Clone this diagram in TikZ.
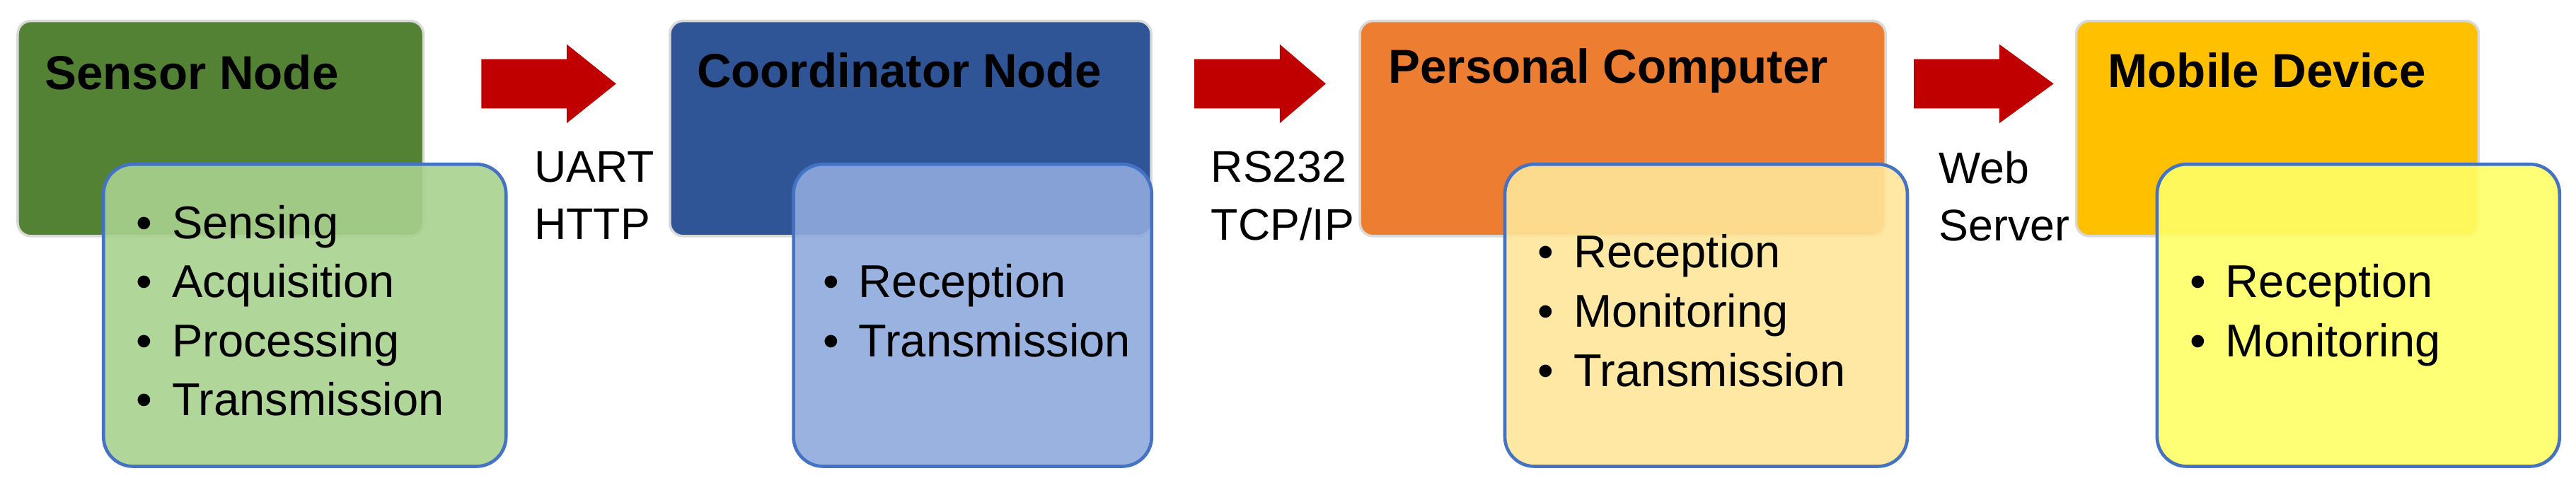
\documentclass[tikz,border=0pt]{standalone}
\usepackage{fontspec}
\setmainfont{Liberation Sans}
\definecolor{cgreen}{HTML}{548235}
\definecolor{lgreen}{HTML}{A9D18E}
\definecolor{cblue}{HTML}{2F5597}
\definecolor{lblue}{HTML}{8FAADC}
\definecolor{corange}{HTML}{ED7D31}
\definecolor{lorange}{HTML}{FFE699}
\definecolor{cgold}{HTML}{FFC000}
\definecolor{lyellow}{HTML}{FFFF66}
\definecolor{bord}{HTML}{4472C4}
\definecolor{arr}{HTML}{C00000}
\newcommand{\itm}{\textbullet\hspace{12pt}}
\begin{document}
\begin{tikzpicture}[x=1pt,y=-1pt,
  head/.style={draw=white!85!black,line width=1.5pt,rounded corners=8pt,anchor=north west,
    inner sep=0pt,minimum width=#1,minimum height=131pt},
  title/.style={anchor=west,inner sep=0pt,font=\fontsize{29}{32}\selectfont\bfseries},
  body/.style={draw=bord,line width=2pt,rounded corners=18pt,fill opacity=0.9,text opacity=1,
    anchor=north west,minimum height=184pt,text width=#1,inner sep=0pt,
    font=\fontsize{28}{36}\selectfont},
  lab/.style={anchor=north west,align=left,inner sep=0pt,font=\fontsize{27}{35}\selectfont},
  blockarrow/.pic={\fill[arr] (0,-15) -- (52,-15) -- (52,-24) -- (#1,0) -- (52,24) -- (52,15) -- (0,15) -- cycle;}]
\useasboundingbox (0,0) rectangle (1568,294);
% heads
\node[head=247pt,fill=cgreen] (h1) at (10,12) {};
\node[head=293pt,fill=cblue] (h2) at (407,12) {};
\node[head=320pt,fill=corange] (h3) at (827,12) {};
\node[head=245pt,fill=cgold] (h4) at (1263,12) {};
\node[title] (t1) at (27,44) {Sensor Node};
\node[title] (t2) at (424,43) {Coordinator Node};
\node[title] (t3) at (845,43) {Personal Computer};
\node[title] (t4) at (1283,43) {Mobile Device};
% bodies
\node[body=245pt,fill=lgreen] (b1) at (62,99) {\hspace*{20pt}\begin{tabular}{@{}l@{}}\itm Sensing\\\itm Acquisition\\\itm Processing\\\itm Transmission\end{tabular}};
\node[body=218pt,fill=lblue] (b2) at (482,99) {\hspace*{18pt}\begin{tabular}{@{}l@{}}\itm Reception\\\itm Transmission\end{tabular}};
\node[body=245pt,fill=lorange] (b3) at (915,99) {\hspace*{20pt}\begin{tabular}{@{}l@{}}\itm Reception\\\itm Monitoring\\\itm Transmission\end{tabular}};
\node[body=245pt,fill=lyellow] (b4) at (1312,99) {\hspace*{20pt}\begin{tabular}{@{}l@{}}\itm Reception\\\itm Monitoring\end{tabular}};
% arrows
\pic at (293,51) {blockarrow=82};
\pic at (727,51) {blockarrow=80};
\pic at (1165,51) {blockarrow=85};
\node[lab] (l1) at (325,92) {UART\\HTTP};
\node[lab] (l2) at (737,92) {RS232\\TCP/IP};
\node[lab] (l3) at (1180,92) {Web\\Server};
\end{tikzpicture}
\end{document}
